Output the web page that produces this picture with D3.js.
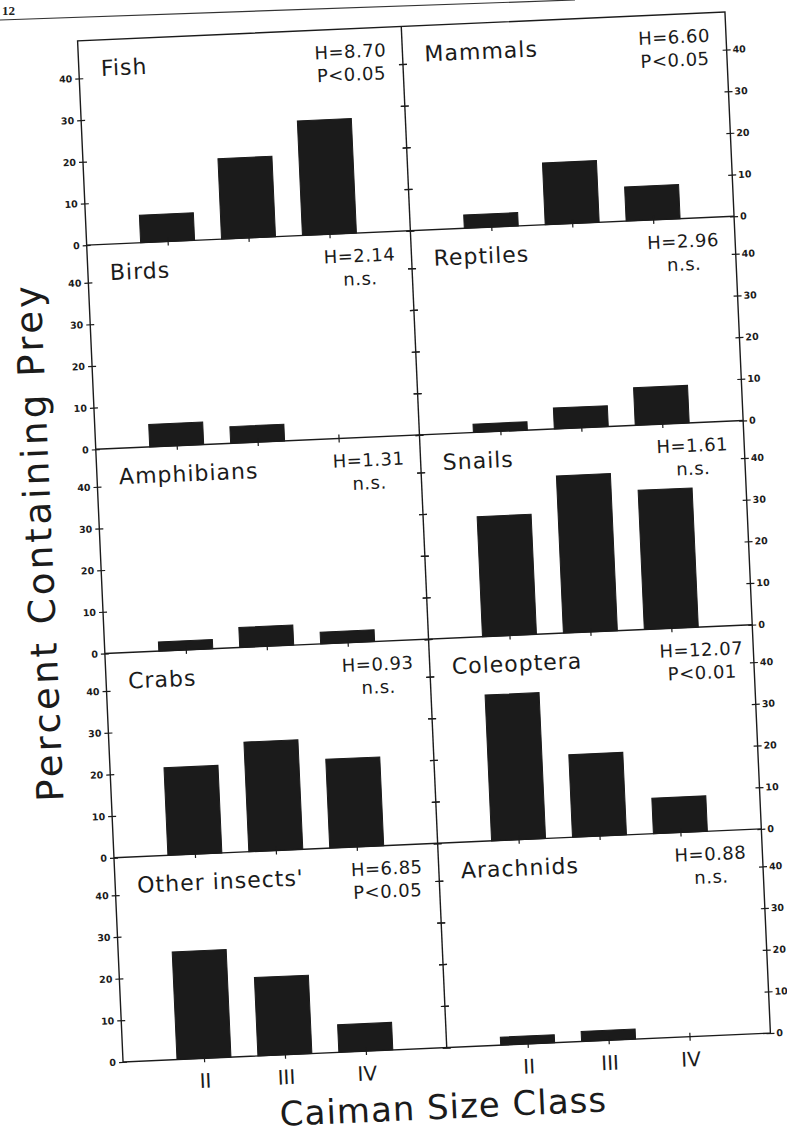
<!DOCTYPE html>
<html>
<head>
<meta charset="utf-8">
<script src="https://cdn.jsdelivr.net/npm/d3@7"></script>
<style>
  body { margin: 0; background: #fff; }
  svg { display: block; }
</style>
</head>
<body>
<div id="chart"></div>
<script>
// prey groups, read left column then right column, row by row
let preyNames = ["Fish", "Mammals", "Birds", "Reptiles", "Amphibians", "Snails",
                 "Crabs", "Coleoptera", "Other insects'", "Arachnids"];
let sizeClasses = ["II", "III", "IV"];
let yTicks = [0, 10, 20, 30, 40];

// percent of stomachs containing each prey, by caiman size class II, III, IV
let fishPct        = [6.6, 19.3, 27.5];
let mammalsPct     = [3.2, 14.8, 8.2];
let birdsPct       = [5.4, 4.0, 0];
let reptilesPct    = [2.0, 5.0, 9.0];
let amphibiansPct  = [2.2, 4.8, 2.8];
let snailsPct      = [28.8, 37.7, 33.4];
let crabsPct       = [21.0, 26.3, 21.3];
let coleopteraPct  = [35.0, 19.8, 8.5];
let otherInsectPct = [25.8, 18.8, 6.6];
let arachnidsPct   = [1.9, 2.4, 0];

// Kruskal-Wallis results printed in each panel
let hStats = ["H=8.70", "H=6.60", "H=2.14", "H=2.96", "H=1.31",
              "H=1.61", "H=0.93", "H=12.07", "H=6.85", "H=0.88"];
let pStats = ["P<0.05", "P<0.05", "n.s.", "n.s.", "n.s.",
              "n.s.", "n.s.", "P<0.01", "P<0.05", "n.s."];

let series = [fishPct, mammalsPct, birdsPct, reptilesPct, amphibiansPct,
              snailsPct, crabsPct, coleopteraPct, otherInsectPct, arachnidsPct];

let width = 787, height = 1138;
let frame = {left: 100, right: 748, top: 26, bottom: 1048};
let cols = 2, rows = 5;
let panelW = (frame.right - frame.left) / cols;
let panelH = (frame.bottom - frame.top) / rows;
let tilt = -2.55; // the printed page sits slightly skewed
let ink = "#1b1b1b";
let font = "DejaVu Sans, Verdana, sans-serif";

let svg = d3.select("#chart").append("svg")
    .attr("width", width)
    .attr("height", height);

svg.append("rect").attr("width", width).attr("height", height).attr("fill", "#fff");

// page header
svg.append("line")
    .attr("x1", 0).attr("y1", 20).attr("x2", 575).attr("y2", 0)
    .attr("stroke", "#333").attr("stroke-width", 1.2);
svg.append("text")
    .attr("x", 2).attr("y", 15)
    .style("font-family", "Liberation Serif, serif")
    .style("font-weight", "bold")
    .style("font-size", "13px")
    .attr("fill", "#222")
    .text("12");

let g = svg.append("g")
    .attr("transform", "rotate(" + tilt + "," + ((frame.left + frame.right) / 2) + "," + ((frame.top + frame.bottom) / 2) + ")");

// scales shared by all panels
let x = d3.scalePoint().domain(sizeClasses).range([0, panelW]).padding(1);
let y = d3.scaleLinear().domain([0, 49]).range([panelH, 0]);
let barW = x.step() * 0.667;

function crossTicks(sel, vertical) {
    sel.select(".domain").remove();
    if (vertical) sel.selectAll(".tick line").attr("x1", -4).attr("x2", 4);
    else sel.selectAll(".tick line").attr("y1", -4).attr("y2", 4);
    sel.selectAll(".tick line").attr("stroke", ink).attr("stroke-width", 1.2);
}

preyNames.forEach(function(name, i) {
    let col = i % cols, row = Math.floor(i / cols);
    let p = g.append("g")
        .attr("transform", "translate(" + (frame.left + col * panelW) + "," + (frame.top + row * panelH) + ")");

    let barData = sizeClasses.map((c, j) => ({cls: c, value: series[i][j]})).filter(d => d.value > 0);

    p.selectAll("rect.bar")
        .data(barData)
        .join("rect")
        .attr("class", "bar")
        .attr("x", d => x(d.cls) - barW / 2)
        .attr("y", d => y(d.value))
        .attr("width", barW)
        .attr("height", d => y(0) - y(d.value))
        .attr("fill", ink)
        .attr("stroke", ink)
        .attr("stroke-width", 1);

    // x ticks on the zero line, labels only under the bottom row
    let xa = p.append("g")
        .attr("transform", "translate(0," + panelH + ")")
        .call(d3.axisBottom(x).tickSize(4).tickPadding(11.4).tickFormat(row === rows - 1 ? d => d : ""))
        .call(s => crossTicks(s, false));
    xa.selectAll("text")
        .attr("fill", ink)
        .style("font-family", font)
        .style("font-size", "20px");

    // left edge ticks (labels on the outer axis only)
    let ya = p.append("g")
        .call(d3.axisLeft(y).tickValues(yTicks).tickSize(4).tickPadding(3).tickFormat(col === 0 ? d3.format("d") : ""))
        .call(s => crossTicks(s, true));
    // right edge ticks
    let yb = p.append("g")
        .attr("transform", "translate(" + panelW + ",0)")
        .call(d3.axisRight(y).tickValues(yTicks).tickSize(4).tickPadding(2).tickFormat(col === cols - 1 ? d3.format("d") : ""))
        .call(s => crossTicks(s, true));
    [ya, yb].forEach(a => a.selectAll("text")
        .attr("fill", ink)
        .style("font-family", font)
        .style("font-weight", "bold")
        .style("font-size", "9.5px"));

    // prey name
    p.append("text")
        .attr("x", 22)
        .attr("y", 36)
        .attr("fill", ink)
        .style("font-family", font)
        .style("font-size", "22px")
        .style("letter-spacing", "1px")
        .text(name);

    // test statistic
    let st = p.append("text")
        .attr("text-anchor", "middle")
        .attr("fill", ink)
        .style("font-family", font)
        .style("font-size", "18px")
        .style("letter-spacing", "0.5px");
    st.append("tspan").attr("x", panelW - 52).attr("y", 29).text(hStats[i]);
    st.append("tspan").attr("x", panelW - 52).attr("y", 52).text(pStats[i]);
});

// frame: outer box, row lines and the column divider
let frameLines = g.append("g").attr("stroke", ink).attr("stroke-width", 1.4).attr("fill", "none");
frameLines.append("rect")
    .attr("x", frame.left).attr("y", frame.top)
    .attr("width", frame.right - frame.left).attr("height", frame.bottom - frame.top);
frameLines.selectAll("line.row")
    .data(d3.range(1, rows))
    .join("line")
    .attr("class", "row")
    .attr("x1", frame.left).attr("x2", frame.right)
    .attr("y1", r => frame.top + r * panelH).attr("y2", r => frame.top + r * panelH);
frameLines.append("line")
    .attr("x1", frame.left + panelW).attr("x2", frame.left + panelW)
    .attr("y1", frame.top).attr("y2", frame.bottom);

// axis titles
g.append("text")
    .attr("transform", "translate(52," + 525 + ") rotate(-90)")
    .attr("text-anchor", "middle")
    .attr("fill", ink)
    .style("font-family", font)
    .style("font-size", "37px")
    .style("letter-spacing", "3.3px")
    .text("Percent Containing Prey");

g.append("text")
    .attr("x", 418)
    .attr("y", 1119)
    .attr("text-anchor", "middle")
    .attr("fill", ink)
    .style("font-family", font)
    .style("font-size", "34px")
    .style("letter-spacing", "1px")
    .text("Caiman Size Class");
</script>
</body>
</html>
